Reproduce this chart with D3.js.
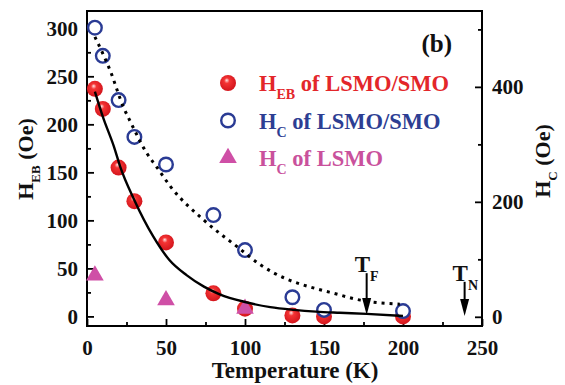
<!DOCTYPE html>
<html><head><meta charset="utf-8">
<script src="https://cdn.jsdelivr.net/npm/d3@7/dist/d3.min.js"></script>
<style>
body{margin:0;background:#fff;}
text{font-family:"Liberation Serif","Times New Roman",serif;font-weight:bold;}
</style></head>
<body><svg id="c" width="565" height="385"></svg>
<script>
// ---- data ----
const temps = [5, 10, 20, 30, 50, 80, 100, 130, 150, 200];
const hebLsmoSmo = [237, 216, 155, 120, 77, 24, 8, 1, 0, 0];          // left axis (Oe)
const hcLsmoSmo = [503, 454, 377, 313, 265, 177, 116, 34, 12, 10];    // right axis (Oe)
const lsmoTemps = [5, 50, 100];
const hcLsmo = [72, 29, 14];                                          // right axis (Oe)
const fitT = [5, 10, 17, 21, 30, 42, 52, 63, 74, 84, 100, 116, 131, 145, 160, 177, 200];
const fitHeb = [234, 208, 177, 156, 121, 83, 59, 43, 31, 23, 15, 9.6, 6.8, 5, 3.8, 2.6, 0.5];
const dotT = [5, 15, 23, 27, 38, 44, 53, 74, 95, 110, 126, 135, 145, 156, 173, 198];
const dotHc = [487, 426, 365, 342, 284, 261, 226, 168, 122, 90, 66, 57, 49, 41, 29, 22];
const xTicks = [0, 50, 100, 150, 200, 250];
const xMinor = [25, 75, 125, 175, 225];
const yLeftTicks = [0, 50, 100, 150, 200, 250, 300];
const yLeftMinor = [25, 75, 125, 175, 225, 275];
const yRightTicks = [0, 200, 400];
const yRightMinor = [100, 300, 500];
const markers = [{sub: "F", T: 177, top: 45, tip: 1.5}, {sub: "N", T: 239, top: 36, tip: 0.5}];
const legendItems = [
  {sub: "EB", rest: " of LSMO/SMO", color: "#e3262a", kind: "sphere"},
  {sub: "C", rest: " of LSMO/SMO", color: "#2d3e93", kind: "circle"},
  {sub: "C", rest: " of LSMO", color: "#c9519c", kind: "tri"}
];

const svg = d3.select("#c");
const L = 87, R = 482, T = 11, B = 326;
const x = d3.scaleLinear().domain([0, 250]).range([L, R]);
const yL = d3.scaleLinear().domain([-10, 318]).range([B, T]);
const yR = d3.scaleLinear().domain([-16, 532]).range([B, T]);

const BLUE = "#2a3b94", PINK = "#cf4fa6";

const defs = svg.append("defs");
const g = defs.append("radialGradient").attr("id", "sph").attr("cx", "0.45").attr("cy", "0.45").attr("r", "0.6").attr("fx", "0.42").attr("fy", "0.32");
g.append("stop").attr("offset", "0").attr("stop-color", "#ffe6e6");
g.append("stop").attr("offset", "0.28").attr("stop-color", "#f43434");
g.append("stop").attr("offset", "1").attr("stop-color", "#d0121a");

// axes
function styleAxis(sel) {
  sel.select(".domain").remove();
  sel.attr("font-family", null).attr("font-size", null);
  sel.selectAll("line").attr("stroke", "#000").attr("stroke-width", 1.8);
  sel.selectAll("text").attr("fill", "#111").style("font-size", "21px");
}
svg.append("g").attr("transform", `translate(0,${B})`)
  .call(d3.axisBottom(x).tickValues(xTicks).tickSizeInner(-7).tickSizeOuter(0).tickPadding(14).tickFormat(d3.format("d"))).call(styleAxis);
svg.append("g").attr("transform", `translate(0,${B})`)
  .call(d3.axisBottom(x).tickValues(xMinor).tickSizeInner(-4).tickSizeOuter(0).tickFormat("")).call(styleAxis);
svg.append("g").attr("transform", `translate(${L},0)`)
  .call(d3.axisLeft(yL).tickValues(yLeftTicks).tickSizeInner(-7).tickSizeOuter(0).tickPadding(9).tickFormat(d3.format("d"))).call(styleAxis);
svg.append("g").attr("transform", `translate(${L},0)`)
  .call(d3.axisLeft(yL).tickValues(yLeftMinor).tickSizeInner(-4).tickSizeOuter(0).tickFormat("")).call(styleAxis);
svg.append("g").attr("transform", `translate(${R},0)`)
  .call(d3.axisRight(yR).tickValues(yRightTicks).tickSizeInner(-7).tickSizeOuter(0).tickPadding(10).tickFormat(d3.format("d"))).call(styleAxis);
svg.append("g").attr("transform", `translate(${R},0)`)
  .call(d3.axisRight(yR).tickValues(yRightMinor).tickSizeInner(-4).tickSizeOuter(0).tickFormat("")).call(styleAxis);

svg.append("rect").attr("x", L).attr("y", T).attr("width", R - L).attr("height", B - T)
  .attr("fill", "none").attr("stroke", "#000").attr("stroke-width", 2);

// points
svg.append("g").selectAll("circle").data(temps.map((t, i) => [t, hebLsmoSmo[i]])).join("circle")
  .attr("cx", d => x(d[0])).attr("cy", d => yL(d[1])).attr("r", 8).attr("fill", "url(#sph)");
svg.append("g").selectAll("circle").data(temps.map((t, i) => [t, hcLsmoSmo[i]])).join("circle")
  .attr("cx", d => x(d[0])).attr("cy", d => yR(d[1])).attr("r", 6.8).attr("fill", "#fff")
  .attr("stroke", BLUE).attr("stroke-width", 2.4);
const triSym = d3.symbol().type(d3.symbolTriangle).size(135);
svg.append("g").selectAll("path").data(lsmoTemps.map((t, i) => [t, hcLsmo[i]])).join("path")
  .attr("d", triSym).attr("transform", d => `translate(${x(d[0])},${yR(d[1])})`).attr("fill", PINK);

// lines
svg.append("path").datum(fitT.map((t, i) => [t, fitHeb[i]]))
  .attr("d", d3.line().x(d => x(d[0])).y(d => yL(d[1])).curve(d3.curveMonotoneX))
  .attr("fill", "none").attr("stroke", "#000").attr("stroke-width", 2.4);
svg.append("path").datum(dotT.map((t, i) => [t, dotHc[i]]))
  .attr("d", d3.line().x(d => x(d[0])).y(d => yR(d[1])).curve(d3.curveMonotoneX))
  .attr("fill", "none").attr("stroke", "#000").attr("stroke-width", 3).attr("stroke-dasharray", "3,5");

// markers T_F / T_N
markers.forEach(m => {
  const ax = x(m.T), y0 = yL(m.top), y1 = yL(m.tip);
  svg.append("line").attr("x1", ax).attr("x2", ax).attr("y1", y0).attr("y2", y1 - 14)
    .attr("stroke", "#000").attr("stroke-width", 2);
  svg.append("path").attr("d", `M${ax - 4.5},${y1 - 17}L${ax + 4.5},${y1 - 17}L${ax},${y1}Z`).attr("fill", "#000");
  const t = svg.append("text").attr("x", ax - 12).attr("y", y0 - 1).style("font-size", "23px").attr("fill", "#111");
  t.append("tspan").text("T");
  t.append("tspan").attr("dy", 9).style("font-size", "14px").text(m.sub);
});

// legend
legendItems.forEach((it, i) => {
  const cy = 83 + i * 37.5;
  if (it.kind === "sphere") svg.append("circle").attr("cx", 228).attr("cy", cy).attr("r", 8).attr("fill", "url(#sph)");
  else if (it.kind === "circle") svg.append("circle").attr("cx", 228).attr("cy", cy).attr("r", 6.8).attr("fill", "#fff").attr("stroke", BLUE).attr("stroke-width", 2.4);
  else svg.append("path").attr("d", triSym).attr("transform", `translate(228,${cy})`).attr("fill", PINK);
  const t = svg.append("text").attr("x", 259).attr("y", cy + 8).attr("fill", it.color).style("font-size", "22.5px");
  t.append("tspan").text("H");
  t.append("tspan").attr("dy", 8).style("font-size", "14px").text(it.sub);
  t.append("tspan").attr("dy", -8).text(it.rest);
});

svg.append("text").attr("x", 452).attr("y", 52).attr("text-anchor", "end").style("font-size", "25px").attr("fill", "#111").text("(b)");

// axis titles
svg.append("text").attr("x", 295).attr("y", 378).attr("text-anchor", "middle").style("font-size", "23px").attr("fill", "#111").text("Temperature (K)");
const lt = svg.append("text").attr("transform", "translate(33,159) rotate(-90)").attr("text-anchor", "middle").style("font-size", "22px").attr("fill", "#111");
lt.append("tspan").text("H");
lt.append("tspan").attr("dy", 7).style("font-size", "13px").text("EB");
lt.append("tspan").attr("dy", -7).text(" (Oe)");
const rt = svg.append("text").attr("transform", "translate(550,161) rotate(-90)").attr("text-anchor", "middle").style("font-size", "22px").attr("fill", "#111");
rt.append("tspan").text("H");
rt.append("tspan").attr("dy", 7).style("font-size", "13px").text("C");
rt.append("tspan").attr("dy", -7).text(" (Oe)");
</script></body></html>
